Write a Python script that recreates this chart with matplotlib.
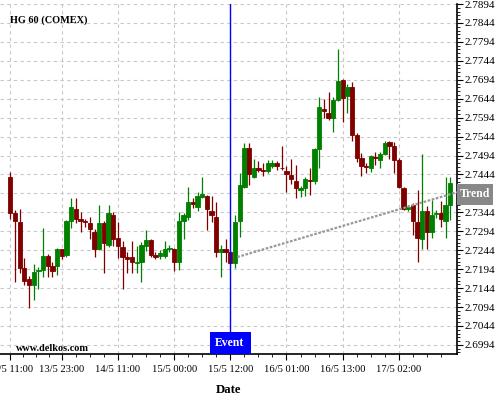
import numpy as np
import matplotlib.pyplot as plt
import matplotlib.transforms as mtransforms
from matplotlib.patches import Rectangle

# hourly HG candles
opens = [2.7436, 2.7343, 2.7318, 2.7198, 2.7169, 2.7153, 2.7188, 2.7193, 2.7229, 2.7203,
         2.7203, 2.7247, 2.7232, 2.7321, 2.7353, 2.7326, 2.7321, 2.7315, 2.7292, 2.7247,
         2.7315, 2.7259, 2.7337, 2.7276, 2.7253, 2.7225, 2.7225, 2.7209, 2.7214, 2.7254,
         2.7270, 2.7232, 2.7229, 2.7229, 2.7246, 2.7247, 2.7214, 2.7321, 2.7332, 2.7370,
         2.7359, 2.7384, 2.7387, 2.7348, 2.7332, 2.7238, 2.7247, 2.7238, 2.7210, 2.7322,
         2.7411, 2.7515, 2.7438, 2.7461, 2.7457, 2.7453, 2.7466, 2.7475, 2.7462, 2.7452,
         2.7443, 2.7426, 2.7404, 2.7408, 2.7429, 2.7426, 2.7510, 2.7616, 2.7605, 2.7593,
         2.7640, 2.7694, 2.7652, 2.7676, 2.7547, 2.7488, 2.7467, 2.7462, 2.7490, 2.7482,
         2.7497, 2.7531, 2.7520, 2.7481, 2.7407, 2.7353, 2.7363, 2.7319, 2.7274, 2.7347,
         2.7293, 2.7339, 2.7343, 2.7322, 2.7364]
highs = [2.7451, 2.7350, 2.7352, 2.7223, 2.7175, 2.7208, 2.7199, 2.7302, 2.7234, 2.7212,
         2.7250, 2.7248, 2.7324, 2.7381, 2.7381, 2.7346, 2.7326, 2.7331, 2.7299, 2.7364,
         2.7321, 2.7364, 2.7346, 2.7318, 2.7268, 2.7238, 2.7268, 2.7256, 2.7267, 2.7297,
         2.7274, 2.7240, 2.7245, 2.7268, 2.7258, 2.7250, 2.7346, 2.7342, 2.7410, 2.7382,
         2.7398, 2.7436, 2.7390, 2.7387, 2.7372, 2.7258, 2.7273, 2.7245, 2.7336, 2.7447,
         2.7526, 2.7526, 2.7486, 2.7480, 2.7474, 2.7481, 2.7481, 2.7479, 2.7520, 2.7466,
         2.7486, 2.7470, 2.7413, 2.7437, 2.7460, 2.7514, 2.7648, 2.7644, 2.7661, 2.7648,
         2.7776, 2.7695, 2.7682, 2.7688, 2.7554, 2.7501, 2.7474, 2.7495, 2.7502, 2.7503,
         2.7532, 2.7532, 2.7531, 2.7487, 2.7411, 2.7363, 2.7368, 2.7402, 2.7497, 2.7361,
         2.7376, 2.7350, 2.7374, 2.7436, 2.7437]
lows = [2.7326, 2.7161, 2.7183, 2.7153, 2.7091, 2.7113, 2.7141, 2.7173, 2.7173, 2.7173,
        2.7179, 2.7221, 2.7227, 2.7302, 2.7315, 2.7291, 2.7306, 2.7274, 2.7227, 2.7245,
        2.7185, 2.7252, 2.7256, 2.7223, 2.7141, 2.7183, 2.7185, 2.7185, 2.7161, 2.7243,
        2.7227, 2.7220, 2.7221, 2.7223, 2.7238, 2.7188, 2.7192, 2.7274, 2.7324, 2.7356,
        2.7348, 2.7382, 2.7297, 2.7318, 2.7227, 2.7173, 2.7212, 2.7208, 2.7197, 2.7280,
        2.7408, 2.7416, 2.7434, 2.7451, 2.7440, 2.7447, 2.7461, 2.7455, 2.7457, 2.7397,
        2.7419, 2.7381, 2.7385, 2.7388, 2.7390, 2.7419, 2.7460, 2.7594, 2.7587, 2.7555,
        2.7637, 2.7582, 2.7606, 2.7532, 2.7477, 2.7440, 2.7447, 2.7451, 2.7469, 2.7461,
        2.7495, 2.7486, 2.7447, 2.7409, 2.7350, 2.7347, 2.7285, 2.7212, 2.7247, 2.7246,
        2.7275, 2.7329, 2.7306, 2.7276, 2.7324]
closes = [2.7343, 2.7322, 2.7198, 2.7164, 2.7153, 2.7187, 2.7193, 2.7229, 2.7203, 2.7188,
          2.7247, 2.7229, 2.7321, 2.7358, 2.7327, 2.7321, 2.7318, 2.7299, 2.7247, 2.7315,
          2.7264, 2.7343, 2.7274, 2.7254, 2.7225, 2.7221, 2.7214, 2.7213, 2.7258, 2.7270,
          2.7232, 2.7225, 2.7236, 2.7247, 2.7250, 2.7214, 2.7321, 2.7337, 2.7371, 2.7366,
          2.7387, 2.7393, 2.7353, 2.7337, 2.7238, 2.7247, 2.7238, 2.7210, 2.7318, 2.7416,
          2.7515, 2.7444, 2.7461, 2.7457, 2.7453, 2.7475, 2.7475, 2.7466, 2.7460, 2.7444,
          2.7433, 2.7409, 2.7408, 2.7432, 2.7426, 2.7510, 2.7621, 2.7611, 2.7593, 2.7640,
          2.7690, 2.7646, 2.7676, 2.7548, 2.7488, 2.7467, 2.7463, 2.7492, 2.7488, 2.7497,
          2.7526, 2.7520, 2.7482, 2.7411, 2.7353, 2.7358, 2.7321, 2.7277, 2.7347, 2.7293,
          2.7337, 2.7343, 2.7327, 2.7364, 2.7422]

tick_pos = [0, 11, 23, 35, 47, 59, 71, 83]
tick_labels = ["13/5 11:00", "13/5 23:00", "14/5 11:00", "15/5 00:00",
               "15/5 12:00", "16/5 01:00", "16/5 13:00", "17/5 02:00"]

event_idx = 47
trend_x = [48.5, 95.4]
trend_y = [2.7226, 2.7397]
trend_label_y = 2.7392

serif = ['Liberation Serif', 'DejaVu Serif']
plt.rcParams['font.family'] = serif

fig = plt.figure(figsize=(5, 4), dpi=100)
ax = fig.add_axes([0.0, 0.115, 0.9134, 0.875])

o = np.array(opens)
c = np.array(closes)
x = np.arange(len(o))
up = c >= o
colors = np.where(up, '#008000', '#800000')

# wicks then bodies
ax.vlines(x, lows, highs, colors=colors, linewidth=0.9, zorder=3)
ax.bar(x, np.abs(c - o), bottom=np.minimum(o, c), width=0.92,
       color=colors, edgecolor=colors, linewidth=0.6, zorder=4)

# trend line and event marker
ax.plot(trend_x, trend_y, color='#999999', linewidth=1.6,
        linestyle=(0, (1.2, 0.7)), zorder=5, clip_on=False)
ax.axvline(event_idx, color='#0000ff', linewidth=1.0, zorder=6)

blend = mtransforms.blended_transform_factory(ax.transData, ax.transAxes)
ax.add_patch(Rectangle((event_idx - 4.35, 0), 8.7, 0.063, transform=blend,
                       facecolor='#0000ff', edgecolor='none', zorder=7, clip_on=False))
ax.text(event_idx - 0.15, 0.031, 'Event', transform=blend, color='white',
        fontsize=8.5, fontweight='bold', ha='center', va='center', zorder=8)

blend2 = mtransforms.blended_transform_factory(ax.transAxes, ax.transData)
ax.add_patch(Rectangle((1.0, trend_label_y - 0.00277), 0.079, 0.0055, transform=blend2,
                       facecolor='#888888', edgecolor='none', zorder=7, clip_on=False))
ax.text(1.0395, trend_label_y, 'Trend', transform=blend2, color='white',
        fontsize=8.5, fontweight='bold', ha='center', va='center', zorder=8)

ax.set_xlim(-2.2, 95.36)
ax.set_ylim(2.6970, 2.7894)

ax.set_xticks(tick_pos)
ax.set_xticklabels(tick_labels)
minor_x = []
for a, b in zip(tick_pos[:-1], tick_pos[1:]):
    minor_x += [a + (b - a) * k / 4 for k in (1, 2, 3)]
minor_x += [83 + 3, 83 + 6, 83 + 9]
ax.set_xticks(minor_x, minor=True)

yt = np.round(np.arange(2.6994, 2.78941, 0.005), 4)
ax.set_yticks(yt)
# the Trend box sits on top of the 2.7394 label
ax.set_yticklabels(['' if abs(v - trend_label_y) < 0.002 else '%.4f' % v for v in yt])
ax.set_yticks(np.round(np.arange(2.6974, 2.7894, 0.001), 4), minor=True)
ax.yaxis.tick_right()

ax.tick_params(axis='x', which='major', labelsize=7.6, length=4, width=0.8,
               direction='out', pad=4)
ax.tick_params(axis='y', which='major', labelsize=8.0, length=4, width=0.8,
               direction='out', pad=1.5)
ax.tick_params(axis='both', which='minor', length=2, width=0.6, direction='out')

ax.grid(True, which='major', color='#c8c8c8', linestyle=(0, (3, 3)), linewidth=0.8)
ax.set_axisbelow(True)

for s in ['top', 'left']:
    ax.spines[s].set_visible(False)
ax.spines['right'].set_linewidth(1.2)
ax.spines['bottom'].set_linewidth(1.2)

ax.set_xlabel('Date', fontsize=9.2, fontweight='bold', labelpad=7)

fig.text(10 / 500, 1 - 20 / 400, 'HG 60 (COMEX)', fontsize=7.4, fontweight='bold',
         ha='left', va='center')
fig.text(15.5 / 500, 1 - 348.5 / 400, 'www.delkos.com', fontsize=7.4, fontweight='bold',
         ha='left', va='center')

fig.savefig('out.png', dpi=100)
